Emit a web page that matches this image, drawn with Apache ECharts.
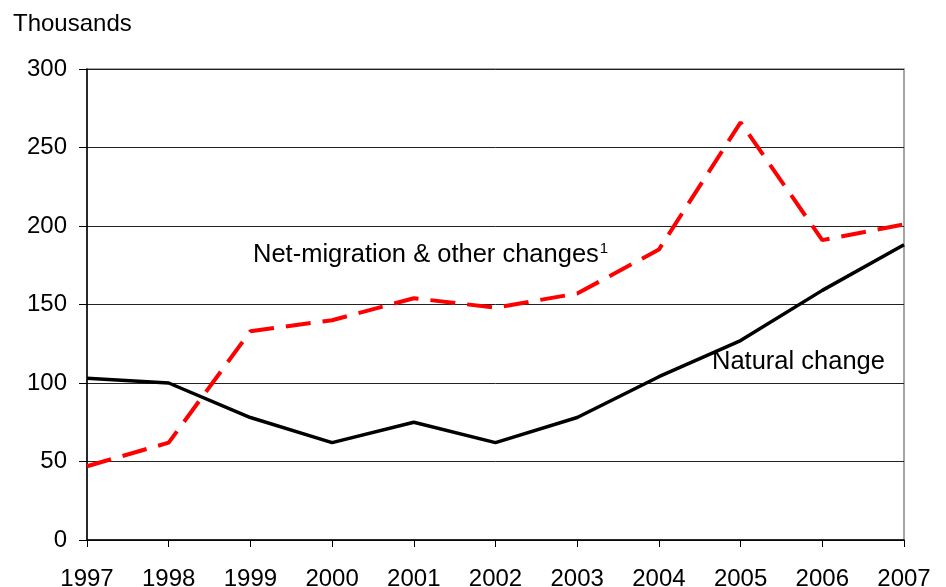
<!DOCTYPE html>
<html><head><meta charset="utf-8">
<script src="https://cdn.jsdelivr.net/npm/echarts@6/dist/echarts.min.js"></script>
<style>html,body{margin:0;padding:0;background:#fff}#c{width:946px;height:587px}</style>
</head><body><div id="c"></div>
<script>
const years = ['1997','1998','1999','2000','2001','2002','2003','2004','2005','2006','2007'];
const naturalChange = [103, 100, 78, 62, 75, 62, 78, 104, 127, 159, 188];
const netMigration = [47, 62, 133, 140, 154, 148, 157, 185, 266, 191, 201];
const yTicks = [0, 50, 100, 150, 200, 250, 300];

const font = 'Liberation Sans, Arial, sans-serif';
const chart = echarts.init(document.getElementById('c'), null, {renderer: 'canvas'});
chart.setOption({
  animation: false,
  backgroundColor: '#fff',
  grid: {left: 87, right: 42, top: 69, bottom: 47, show: true, borderColor: '#888', borderWidth: 1.5, containLabel: false, outerBoundsMode: 'none'},
  xAxis: {
    type: 'category', data: years, boundaryGap: false,
    axisLine: {lineStyle: {color: '#000', width: 1.5}},
    axisTick: {show: true, length: 7, lineStyle: {color: '#000', width: 1}},
    axisLabel: {color: '#000', fontSize: 24, fontFamily: font, margin: 27, interval: 0},
    splitLine: {show: false}
  },
  yAxis: {
    type: 'value', min: yTicks[0], max: yTicks[yTicks.length-1], interval: 50,
    name: 'Thousands', nameLocation: 'end', nameGap: 33,
    nameTextStyle: {color: '#000', fontSize: 24, fontFamily: font, align: 'left', padding: [0,0,0,-74]},
    axisLine: {show: true, lineStyle: {color: '#000', width: 1.5}},
    axisTick: {show: true, length: 8, lineStyle: {color: '#000', width: 1}},
    axisLabel: {color: '#000', fontSize: 24, fontFamily: font, margin: 20},
    splitLine: {show: true, lineStyle: {color: '#222', width: 1}}
  },
  series: [
    {name: 'Natural change', type: 'line', data: naturalChange, symbol: 'none',
     lineStyle: {color: '#000', width: 3.5}, z: 3},
    {name: 'Net-migration & other changes', type: 'line', data: netMigration, symbol: 'none',
     lineStyle: {color: '#ff0000', width: 4, type: [25, 12]}, z: 4}
  ],
  graphic: [
    {type: 'text', left: 253, top: 241, style: {
      text: '{a|Net-migration & other changes}{s|1}',
      rich: {a: {fontSize: 25.5, fontFamily: font, fill: '#000'}, s: {fontSize: 15, fontFamily: font, fill: '#000', verticalAlign: 'top', padding: [0,0,12,1]}}
    }},
    {type: 'text', left: 712, top: 349, style: {text: 'Natural change', fontSize: 25.5, fontFamily: font, fill: '#000'}}
  ]
});
</script></body></html>
